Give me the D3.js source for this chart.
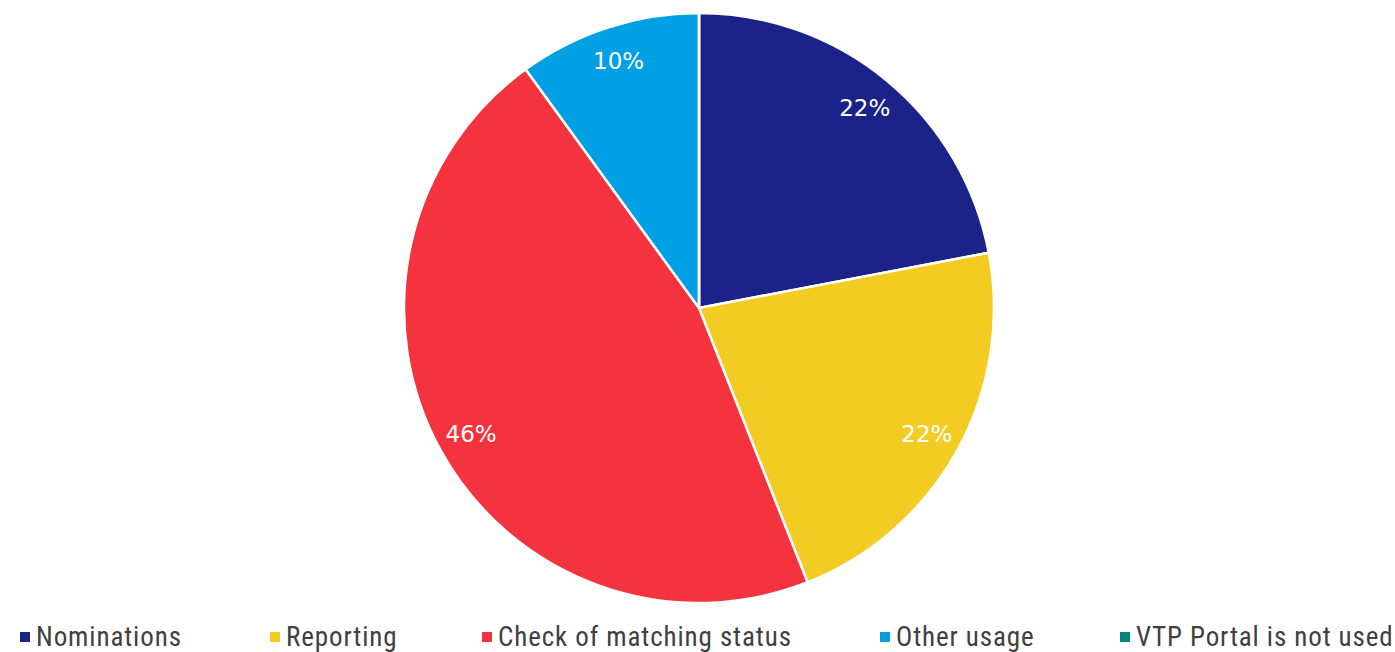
<!DOCTYPE html>
<html>
<head>
<meta charset="utf-8">
<script src="https://cdn.jsdelivr.net/npm/d3@7"></script>
<style>
  body { margin: 0; background: #fff; }
  svg { display: block; }
</style>
</head>
<body>
<div id="chart"></div>
<script>
// Data
const categories = ["Nominations", "Reporting", "Check of matching status", "Other usage", "VTP Portal is not used"];
const shares = [22, 22, 46, 10, 0];
const colors = ["#1b2389", "#f2cc22", "#f5333f", "#00a0e4", "#00857a"];

const width = 1395
const height = 652
const cx = 699
const cy = 308
const radius = 295

var svg = d3.select("#chart")
    .append("svg")
    .attr("width", width)
    .attr("height", height)

var g = svg.append("g")
    .attr("transform", "translate(" + cx + "," + cy + ")");

var color = d3.scaleOrdinal()
    .domain(categories)
    .range(colors);

var pie = d3.pie()
    .sort(null)
    .value(function (d) { return d.value; })

var data_ready = pie(categories.map(function (c, i) {
    return { key: c, value: shares[i] };
}));

var arcGenerator = d3.arc()
    .innerRadius(0)
    .outerRadius(radius)

var labelArc = d3.arc()
    .innerRadius(260)
    .outerRadius(260)

g.selectAll('slices')
    .data(data_ready)
    .enter()
    .append('path')
    .attr('d', arcGenerator)
    .attr('fill', function (d) { return color(d.data.key) })
    .attr("stroke", "white")
    .style("stroke-width", "2.5px")

g.selectAll('labels')
    .data(data_ready.filter(function (d) { return d.data.value > 0; }))
    .enter()
    .append('text')
    .text(function (d) { return d.data.value + "%" })
    .attr("transform", function (d) { return "translate(" + labelArc.centroid(d) + ")"; })
    .attr("dy", "0.36em")
    .style("text-anchor", "middle")
    .style("font-family", "'DejaVu Sans', Verdana, sans-serif")
    .style("font-size", "23px")
    .style("fill", "white")

// legend
var legendPos = [20, 270, 482, 880, 1120];

var legend = svg.selectAll('legend')
    .data(categories)
    .enter()
    .append('g')
    .attr("transform", function (d, i) { return "translate(" + legendPos[i] + ",637)"; })

legend.append('rect')
    .attr("x", 0)
    .attr("y", -5)
    .attr("width", 10)
    .attr("height", 10)
    .attr("fill", function (d) { return color(d) })

legend.append('text')
    .attr("x", 16)
    .attr("y", 9)
    .text(function (d) { return d })
    .style("font-family", "'Liberation Sans Narrow', 'Arial Narrow', 'Roboto Condensed', sans-serif")
    .style("font-size", "27px")
    .style("letter-spacing", "0.9px")
    .style("fill", "#404040")
</script>
</body>
</html>
